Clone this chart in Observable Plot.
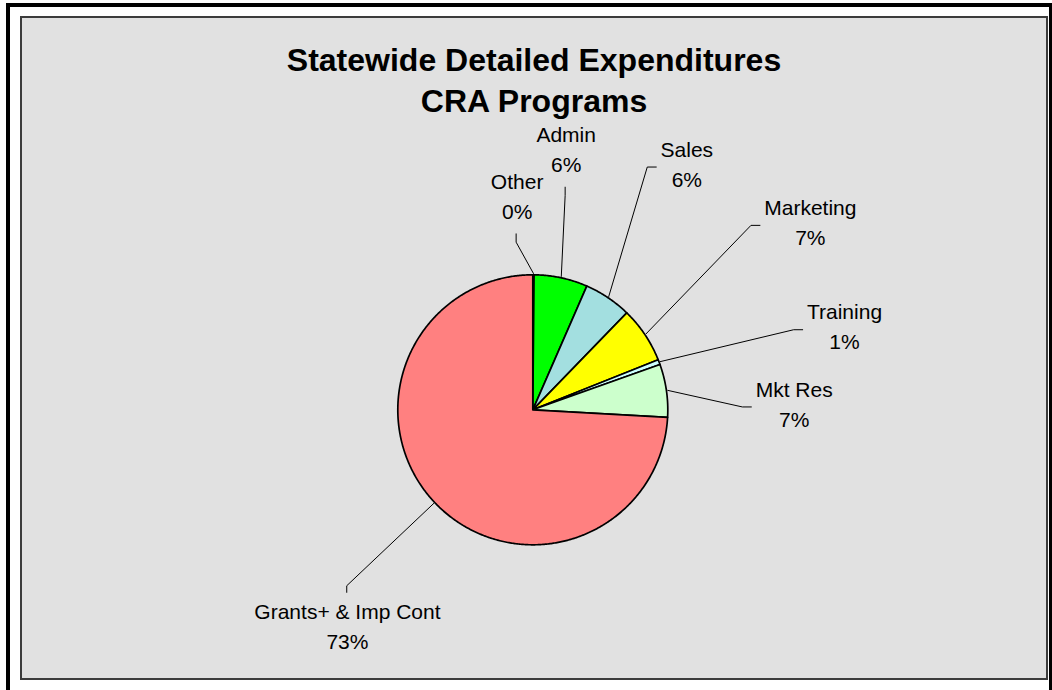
<!DOCTYPE html>
<html>
<head>
<meta charset="utf-8">
<script src="https://cdn.jsdelivr.net/npm/d3@7"></script>
<script src="https://cdn.jsdelivr.net/npm/@observablehq/plot@0.6"></script>
<style>
  html, body { margin: 0; padding: 0; background: #ffffff; width: 1052px; height: 690px; overflow: hidden; }
  body { font-family: Arial, "Liberation Sans", Helvetica, sans-serif; }
  #frame { position: absolute; left: 6px; top: 3px; width: 1039px; height: 700px; border: 4px solid #000; }
  #panel { position: absolute; left: 20px; top: 16px; width: 1028px; height: 664px; box-sizing: border-box;
           border: 2px solid #3c3c3c; background: #e1e1e1; }
  #title { position: absolute; left: 0; right: 0; top: 22px; text-align: center; font-weight: bold;
           font-size: 32px; line-height: 41px; color: #000; }
  #chart { position: absolute; left: 0; top: 100px; }
</style>
</head>
<body>
<div id="frame"></div>
<div id="panel">
  <div id="title">Statewide Detailed Expenditures<br>CRA Programs</div>
  <div id="chart"></div>
</div>
<script>
// ---- data (clockwise from 12 o'clock) ----
const names = ["Other", "Admin", "Sales", "Marketing", "Training", "Mkt Res", "Grants+ & Imp Cont"];
const values = [0.15, 6.4, 5.7, 6.7, 0.6, 6.35, 74.1];
const pctLabels = ["0%", "6%", "6%", "7%", "1%", "7%", "73%"];
const colors = ["#9999ff", "#00ff00", "#a3dfe0", "#ffff00", "#ccffff", "#ccffcc", "#ff8080"];

// ---- layout (label placement, in pie radii from centre; y up) ----
const labelX = [-0.116, 0.247, 1.141, 2.056, 2.309, 1.936, -1.373];
const labelY = [1.575, 1.921, 1.813, 1.381, 0.608, 0.036, -1.610];
const attach = ["bottom", "bottom", "left", "left", "left", "left", "top"];

const W = 1024, H = 560, R = 135;   // px
const cx = 510.3, cy = 291.3;       // pie centre in svg px
const FS = 21, LH = 30;

const total = d3.sum(values);
let acc = 0;
const slicePts = [];
const mids = [];
values.forEach((v, i) => {
  const a0 = acc / total * 2 * Math.PI;
  acc += v;
  const a1 = acc / total * 2 * Math.PI;
  mids.push((a0 + a1) / 2);
  slicePts.push({name: names[i], x: 0, y: 0});
  const n = Math.max(2, Math.ceil((a1 - a0) / (Math.PI / 360)));
  for (let k = 0; k <= n; k++) {
    const a = a0 + (a1 - a0) * k / n;
    slicePts.push({name: names[i], x: Math.sin(a), y: Math.cos(a)});
  }
  slicePts.push({name: names[i], x: 0, y: 0});
});

// text widths for leader attachment
const ctx = document.createElement("canvas").getContext("2d");
ctx.font = `${FS}px Arial, "Liberation Sans", sans-serif`;
const u = R; // px per unit
const leaderPts = [];
const labels = names.map((nm, i) => {
  const w = Math.max(ctx.measureText(nm).width, ctx.measureText(pctLabels[i]).width);
  const lx = labelX[i], ly = labelY[i];
  const start = {x: 1.01 * Math.sin(mids[i]), y: 1.01 * Math.cos(mids[i])};
  let bend, end;
  if (attach[i] === "left") {
    end = {x: lx - (w / 2 + 4.3) / u, y: ly - 2 / u};
    bend = {x: end.x - 9 / u, y: end.y};
  } else if (attach[i] === "bottom") {
    end = {x: lx - 1 / u, y: ly - 36.7 / u};
    bend = {x: end.x, y: ly - 45 / u};
  } else {
    end = {x: lx - 0.7 / u, y: ly + 34.8 / u};
    bend = {x: end.x, y: ly + 41.4 / u};
  }
  [start, bend, end].forEach(p => leaderPts.push({name: nm, x: p.x, y: p.y}));
  return {name: nm, text: nm + "\n" + pctLabels[i], x: lx, y: ly};
});

const chart = Plot.plot({
  width: W,
  height: H,
  margin: 0,
  x: {domain: [-cx / R, (W - cx) / R], axis: null},
  y: {domain: [-(H - cy) / R, cy / R], axis: null},
  color: {domain: names, range: colors},
  style: {background: "transparent", fontFamily: 'Arial, "Liberation Sans", sans-serif', overflow: "visible"},
  marks: [
    Plot.line(slicePts, {x: "x", y: "y", z: "name", fill: "name", stroke: "#000", strokeWidth: 1.7, strokeLinejoin: "round", curve: "linear"}),
    Plot.line(leaderPts, {x: "x", y: "y", z: "name", stroke: "#000", strokeWidth: 1, curve: "linear"}),
    Plot.text(labels, {x: "x", y: "y", dy: -3, text: "text", fontSize: FS, lineHeight: LH / FS, fill: "#000", textAnchor: "middle", lineAnchor: "middle"})
  ]
});
document.getElementById("chart").appendChild(chart);
</script>
</body>
</html>
